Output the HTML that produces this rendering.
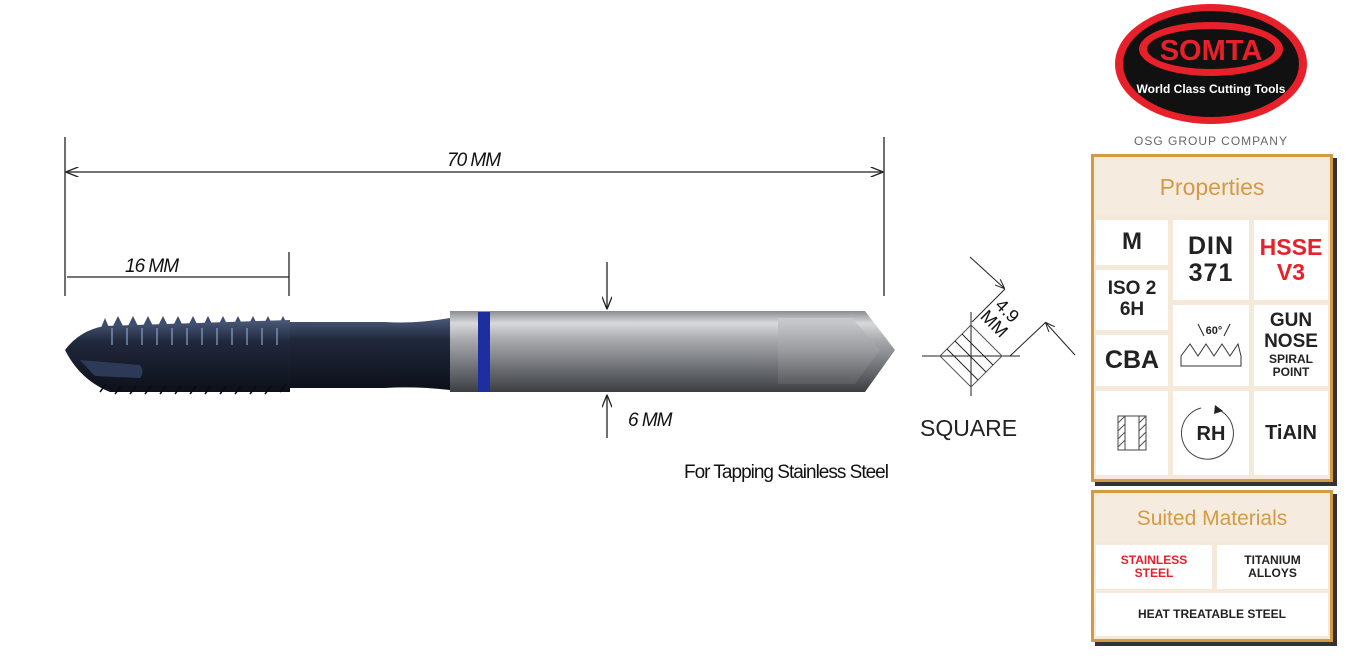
<!DOCTYPE html>
<html><head><style>
body{margin:0;width:1350px;height:664px;background:#fff;position:relative;overflow:hidden;font-family:"Liberation Sans",sans-serif}
.a{position:absolute}
.c{position:absolute;background:#fff;display:flex;flex-direction:column;align-items:center;justify-content:center;text-align:center;font-weight:bold;color:#222;line-height:1.1}
.box{position:absolute;background:#f5e9da;border:3px solid #d19a45;box-shadow:4px 4px 0 #333}
.hd{position:absolute;background:#f5ebdf;color:#d49a45;font-size:23px;display:flex;align-items:center;justify-content:center}
</style></head><body>
<svg class="a" style="left:0;top:0" width="1350" height="664">
<defs>
<linearGradient id="sh" x1="0" y1="0" x2="0" y2="1"><stop offset="0" stop-color="#8a8d92"/><stop offset=".15" stop-color="#d8d9db"/><stop offset=".35" stop-color="#a9abaf"/><stop offset=".7" stop-color="#6d7075"/><stop offset="1" stop-color="#3c3e42"/></linearGradient>
<linearGradient id="nk" x1="0" y1="0" x2="0" y2="1"><stop offset="0" stop-color="#4b5a7a"/><stop offset=".3" stop-color="#20283c"/><stop offset="1" stop-color="#0d1018"/></linearGradient>
<linearGradient id="sq" x1="0" y1="0" x2="0" y2="1"><stop offset="0" stop-color="#c9cacc"/><stop offset=".5" stop-color="#9a9ca0"/><stop offset="1" stop-color="#5a5c60"/></linearGradient>
<marker id="ar" markerWidth="10" markerHeight="8" refX="9" refY="4" orient="auto-start-reverse"><path d="M0,0L10,4L0,8" fill="none" stroke="#222"/></marker>
</defs>
<g stroke="#222" stroke-width="1.3" fill="none">
<line x1="65" y1="137" x2="65" y2="296"/><line x1="884" y1="137" x2="884" y2="296"/>
<line x1="67" y1="172" x2="882" y2="172" marker-end="url(#ar)" marker-start="url(#ar)"/>
<line x1="289" y1="252" x2="289" y2="296"/>
<line x1="67" y1="277" x2="289" y2="277"/>
<line x1="607" y1="262" x2="607" y2="308" marker-end="url(#ar)"/>
<line x1="607" y1="438" x2="607" y2="396" marker-end="url(#ar)"/>
</g>
<text x="447" y="166" font-size="19" font-style="italic" fill="#111" letter-spacing="-1">70 MM</text>
<text x="125" y="272" font-size="19" font-style="italic" fill="#111" letter-spacing="-1">16 MM</text>
<text x="628" y="426" font-size="19" font-style="italic" fill="#111" letter-spacing="-1">6 MM</text>
<text x="684" y="478" font-size="19" fill="#111" letter-spacing="-1">For Tapping Stainless Steel</text>
<!-- tap -->
<path d="M450,311 L865,311 L895,350 L865,392 L450,392 Z" fill="url(#sh)"/>
<path d="M778,318 L852,318 L880,350 L855,384 L778,384 Z" fill="url(#sq)" opacity=".9"/>
<rect x="478" y="312" width="12" height="80" fill="#1d2fa0"/>
<path d="M285,322 L385,322 Q415,324 450,318 L450,390 Q415,386 385,388 L285,388 Z" fill="url(#nk)"/>
<path d="M100,330 l5,-12 5,12 M112,328 l6,-12 6,12 M127,328 l6,-12 6,12 M142,328 l6,-12 6,12 M157,328 l6,-12 6,12 M172,328 l6,-12 6,12 M187,328 l6,-12 6,12 M202,328 l6,-12 6,12 M217,328 l6,-12 6,12 M232,328 l6,-12 6,12 M247,328 l6,-12 6,12 M262,328 l6,-12 6,12 M277,328 l6,-12 6,12" fill="#3d4e74"/>
<path d="M105,326 L290,320 L290,392 L110,392 Q80,380 65,350 Q80,330 105,326 Z" fill="url(#nk)"/>
<g stroke="#8ba0c8" stroke-width="2">
<path d="M112,345 l0,-17 M127,345 l0,-17 M142,345 l0,-17 M157,345 l0,-17 M172,345 l0,-17 M187,345 l0,-17 M202,345 l0,-17 M217,345 l0,-17 M232,345 l0,-17 M247,345 l0,-17 M262,345 l0,-17 M277,345 l0,-17" opacity=".6"/>
</g>
<g stroke="#0a0c12" stroke-width="1.5"><path d="M100,392 l6,-8 M115,394 l6,-8 M130,394 l6,-8 M145,394 l6,-8 M160,394 l6,-8 M175,394 l6,-8 M190,394 l6,-8 M205,394 l6,-8 M220,394 l6,-8 M235,394 l6,-8 M250,394 l6,-8 M265,394 l6,-8 M280,392 l6,-8"/></g>
<path d="M80,360 L140,365 Q145,372 140,378 L95,376 Z" fill="#2c3a58"/>
<!-- square -->
<g stroke="#222" stroke-width="1" fill="none">
<line x1="922" y1="356" x2="1020" y2="356"/><line x1="971" y1="312" x2="971" y2="396"/>
<path d="M971,325 L1002,356 L971,387 L940,356 Z" stroke-linejoin="round" stroke="#555"/>
<line x1="955" y1="341" x2="986" y2="372"/><line x1="962" y1="334" x2="993" y2="365"/><line x1="947" y1="349" x2="978" y2="380"/>
<line x1="972" y1="322" x2="1005" y2="289"/><line x1="1010" y1="356" x2="1046" y2="322"/>
<line x1="970" y1="257" x2="1004" y2="288" marker-end="url(#ar)"/>
<line x1="1075" y1="355" x2="1046" y2="323" marker-end="url(#ar)"/>
</g>
<text font-size="18" fill="#111" transform="translate(1003,315) rotate(45)" text-anchor="middle">4.9</text>
<text font-size="18" fill="#111" transform="translate(990,328) rotate(45)" text-anchor="middle">MM</text>
<text x="920" y="436" font-size="23" fill="#222">SQUARE</text>
<!-- logo -->
<ellipse cx="1211" cy="64" rx="96" ry="60" fill="#e8202a"/>
<ellipse cx="1211" cy="64" rx="88" ry="53" fill="#111"/>
<ellipse cx="1211" cy="49" rx="72" ry="27" fill="#e8202a"/>
<ellipse cx="1211" cy="49" rx="64" ry="20" fill="#111"/>
<text x="1211" y="60" font-size="29" font-weight="bold" fill="#e8202a" text-anchor="middle">SOMTA</text>
<text x="1211" y="93" font-size="12" font-weight="bold" fill="#fff" text-anchor="middle">World Class Cutting Tools</text>
<text x="1211" y="145" font-size="12" fill="#666" text-anchor="middle" letter-spacing="1">OSG GROUP COMPANY</text>
</svg>
<div class="box" style="left:1091px;top:154px;width:236px;height:322px"></div>
<div class="hd" style="left:1096px;top:160px;width:232px;height:55px">Properties</div>
<div class="c" style="left:1096px;top:220px;width:72px;height:45px;font-size:24px">M</div>
<div class="c" style="left:1096px;top:270px;width:72px;height:60px;font-size:19px">ISO 2<br>6H</div>
<div class="c" style="left:1096px;top:335px;width:72px;height:51px;font-size:25px">CBA</div>
<div class="c" style="left:1173px;top:220px;width:76px;height:80px;font-size:25px;letter-spacing:1px">DIN<br>371</div>
<div class="c" style="left:1254px;top:220px;width:74px;height:80px;font-size:23px;color:#e8202a">HSSE<br>V3</div>
<div class="c" style="left:1173px;top:305px;width:76px;height:81px"><svg width="70" height="60"><text x="38" y="18" font-size="11" font-weight="bold" text-anchor="middle" fill="#222">60°</text><path d="M22,8 L28,20 M54,8 L48,20" stroke="#222"/><path d="M5,50 L5,40 L14,28 L22,40 L30,28 L38,40 L46,28 L54,40 L62,28 L65,40 L65,50 Z" fill="none" stroke="#333"/></svg></div>
<div class="c" style="left:1254px;top:305px;width:74px;height:81px;font-size:19px">GUN<br>NOSE<span style="font-size:12px">SPIRAL<br>POINT</span></div>
<div class="c" style="left:1096px;top:391px;width:72px;height:84px"><svg width="30" height="36"><rect x="1" y="1" width="28" height="34" fill="none" stroke="#444"/><rect x="8" y="1" width="14" height="34" fill="#fff" stroke="#444"/><path d="M1,8 L8,1 M1,16 L8,9 M1,24 L8,17 M1,32 L8,25 M22,8 L29,1 M22,16 L29,9 M22,24 L29,17 M22,32 L29,25" stroke="#555"/></svg></div>
<div class="c" style="left:1173px;top:391px;width:76px;height:84px"><svg width="60" height="60"><path d="M36,6 A26,26 0 1 1 20,5" fill="none" stroke="#444"/><path d="M34,2 L42,8 L33,11 Z" fill="#222"/><text x="30" y="37" font-size="20" text-anchor="middle" fill="#222">RH</text></svg></div>
<div class="c" style="left:1254px;top:391px;width:74px;height:84px;font-size:20px">TiAIN</div>
<div class="box" style="left:1091px;top:490px;width:236px;height:146px"></div>
<div class="hd" style="left:1096px;top:496px;width:232px;height:45px;font-size:21px">Suited Materials</div>
<div class="c" style="left:1096px;top:545px;width:116px;height:44px;font-size:12px;color:#e8202a">STAINLESS<br>STEEL</div>
<div class="c" style="left:1217px;top:545px;width:111px;height:44px;font-size:12px">TITANIUM<br>ALLOYS</div>
<div class="c" style="left:1096px;top:593px;width:232px;height:43px;font-size:12px">HEAT TREATABLE STEEL</div>
</body></html>
